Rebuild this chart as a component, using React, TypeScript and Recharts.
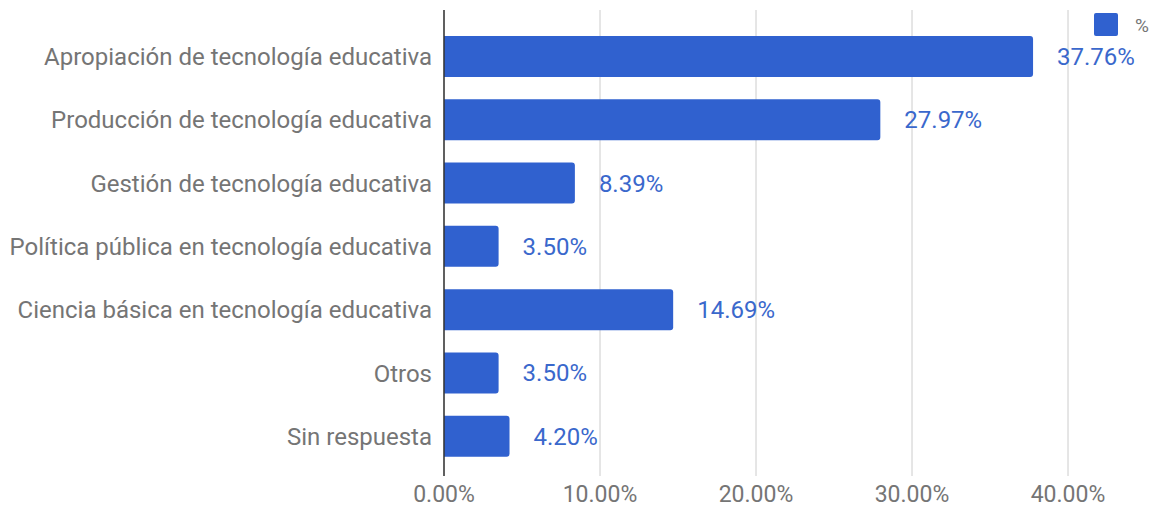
import React from "react";
import { BarChart, Bar, XAxis, YAxis, CartesianGrid, LabelList } from "recharts";

const CATEGORIES = [
  "Apropiación de tecnología educativa",
  "Producción de tecnología educativa",
  "Gestión de tecnología educativa",
  "Política pública en tecnología educativa",
  "Ciencia básica en tecnología educativa",
  "Otros",
  "Sin respuesta",
];
const VALUES = [37.76, 27.97, 8.39, 3.5, 14.69, 3.5, 4.2];
const X_TICKS = [0, 10, 20, 30, 40];

const data = CATEGORIES.map((name, i) => ({ name, value: VALUES[i] }));

const FONT = "Roboto, 'Noto Sans', sans-serif";
const BLUE = "#3061cf";

export default function App() {
  return (
    <div style={{ position: "absolute", left: 0, top: 0, width: 1153, height: 513, background: "#fff" }}>
      <BarChart
        width={1153}
        height={513}
        data={data}
        layout="vertical"
        margin={{ top: 10, right: 85, bottom: 0, left: 0 }}
        barSize={41}
      >
        <CartesianGrid horizontal={false} stroke="#cccccc" />
        <XAxis
          type="number"
          domain={[0, 40]}
          ticks={X_TICKS}
          tickFormatter={(v) => `${v.toFixed(2)}%`}
          axisLine={false}
          tickLine={false}
          height={37}
          tickMargin={4}
          tick={{ fill: "#757575", fontSize: 23, fontFamily: FONT }}
        />
        <YAxis
          type="category"
          dataKey="name"
          width={444}
          padding={{ top: 15, bottom: 8 }}
          axisLine={{ stroke: "#333333", strokeWidth: 1.5 }}
          tickLine={false}
          tickMargin={6}
          tick={{ fill: "#757575", fontSize: 24, fontFamily: FONT }}
        />
        <Bar dataKey="value" name="%" fill={BLUE} radius={[0, 3, 3, 0]} isAnimationActive={false}>
          <LabelList
            dataKey="value"
            position="right"
            offset={24}
            formatter={(v: any) => `${Number(v).toFixed(2)}%`}
            style={{ fill: "#3a68cc", fontSize: 24, fontFamily: FONT }}
          />
        </Bar>
      </BarChart>
      <div style={{ position: "absolute", left: 1094, top: 13, display: "flex", alignItems: "flex-start", fontFamily: FONT, color: "#757575", fontSize: 19 }}>
        <div style={{ width: 24, height: 23, background: BLUE, borderRadius: 2, marginRight: 17 }} />
        <span style={{ marginTop: 1 }}>%</span>
      </div>
    </div>
  );
}
